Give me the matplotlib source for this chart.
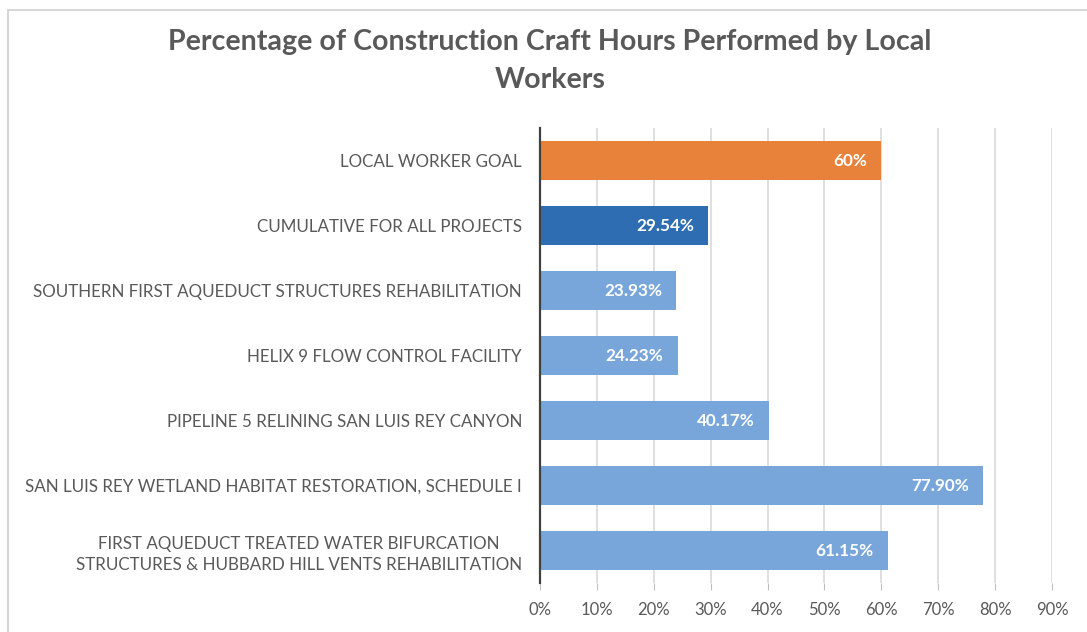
import matplotlib.pyplot as plt
from matplotlib.patches import Rectangle
from matplotlib.ticker import PercentFormatter

plt.rcParams.update({
    "font.family": "Lato",
    "font.size": 12,
})

categories = [
    "LOCAL WORKER GOAL",
    "CUMULATIVE FOR ALL PROJECTS",
    "SOUTHERN FIRST AQUEDUCT STRUCTURES REHABILITATION",
    "HELIX 9 FLOW CONTROL FACILITY",
    "PIPELINE 5 RELINING SAN LUIS REY CANYON",
    "SAN LUIS REY WETLAND HABITAT RESTORATION, SCHEDULE I",
    "FIRST AQUEDUCT TREATED WATER BIFURCATION\nSTRUCTURES & HUBBARD HILL VENTS REHABILITATION",
]
values = [0.60, 0.2954, 0.2393, 0.2423, 0.4017, 0.7790, 0.6115]
value_labels = ["60%", "29.54%", "23.93%", "24.23%", "40.17%", "77.90%", "61.15%"]
bar_colors = ["#E8823A", "#2F6DB3"] + ["#78A6DB"] * 5
xticks = [0.0, 0.1, 0.2, 0.3, 0.4, 0.5, 0.6, 0.7, 0.8, 0.9]

W, H = 1087, 632
fig = plt.figure(figsize=(W / 100, H / 100), dpi=100)

# frame of the original document
fig.add_artist(Rectangle((8 / W, -0.1), 1.2, 1 - 10 / H + 0.1, transform=fig.transFigure,
                         fill=False, edgecolor="#d0d0d0", linewidth=1.2))

ax = fig.add_axes([540 / W, 1 - 583 / H, (1052 - 540) / W, (583 - 128) / H])

ypos = list(range(len(categories)))
ax.barh(ypos, values, height=0.6, color=bar_colors, zorder=3)
ax.set_ylim(len(categories) - 0.5, -0.5)
ax.set_xlim(0, 0.9)

for y, v, lab in zip(ypos, values, value_labels):
    ax.text(v - 0.025, y, lab, ha="right", va="center", color="white",
            fontsize=12.3, fontweight="bold", zorder=4)

ax.set_yticks(ypos)
ax.set_yticklabels(categories, fontsize=12.25, color="#595959", ha="right",
                   multialignment="center", linespacing=1.4)
ax.tick_params(axis="y", length=0, pad=13)

ax.set_xticks(xticks)
ax.xaxis.set_major_formatter(PercentFormatter(1.0, decimals=0))
ax.tick_params(axis="x", length=5, color="#bfbfbf", labelcolor="#595959",
               labelsize=12, pad=9)

ax.grid(axis="x", color="#d9d9d9", linewidth=1.2, zorder=0)
for s in ["top", "right", "bottom"]:
    ax.spines[s].set_visible(False)
ax.spines["left"].set_color("#404040")
ax.spines["left"].set_linewidth(1.6)
ax.spines["left"].set_zorder(5)

fig.text(550 / W, 1 - 42 / H, "Percentage of Construction Craft Hours Performed by Local",
         ha="center", va="center", fontsize=20.6, fontweight="bold", color="#595959")
fig.text(550 / W, 1 - 80 / H, "Workers",
         ha="center", va="center", fontsize=20.6, fontweight="bold", color="#595959")

fig.savefig("out.png", dpi=100)
